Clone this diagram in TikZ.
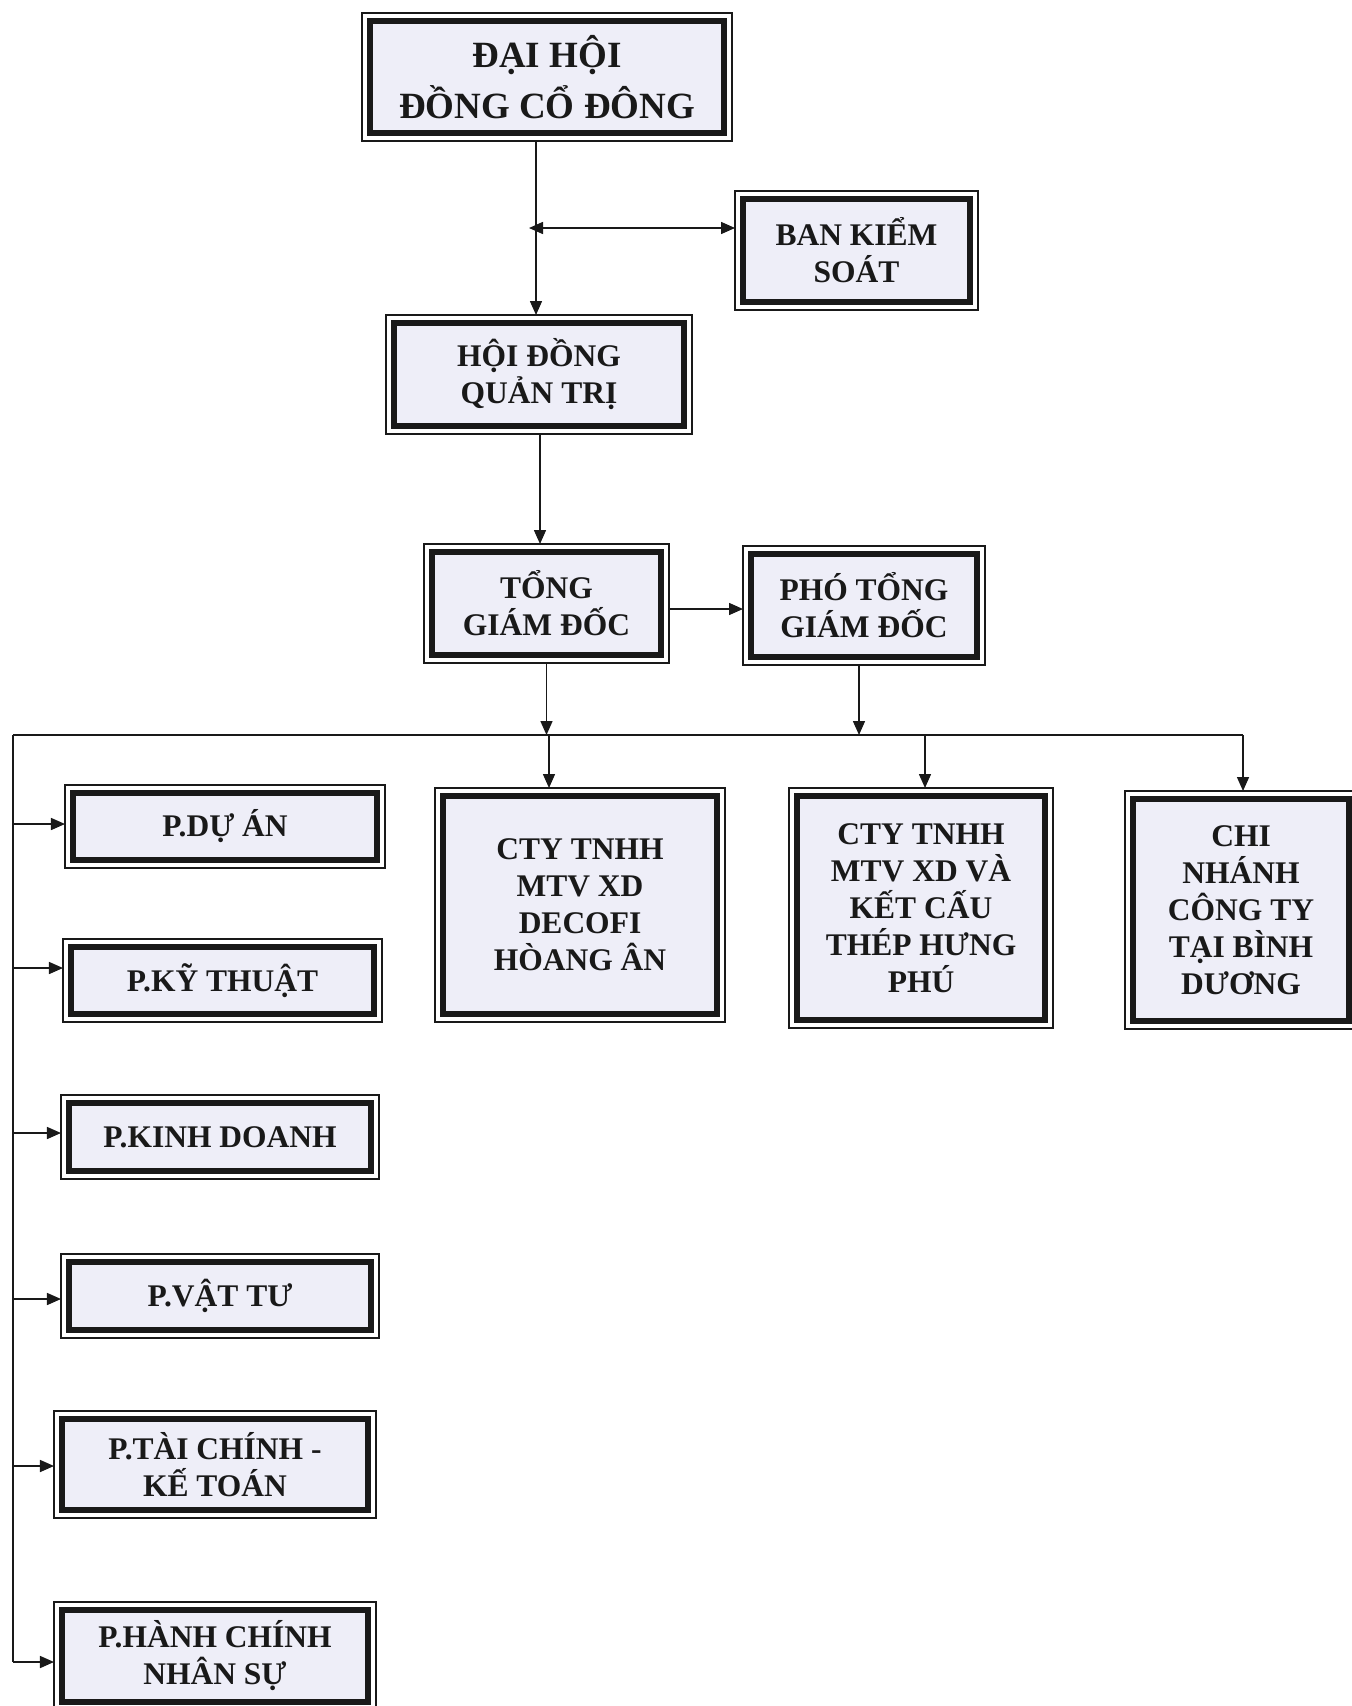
\documentclass[tikz,border=0pt]{standalone}
\usepackage{fontspec}
\setmainfont{Liberation Serif}
\usetikzlibrary{arrows.meta}
\definecolor{boxfill}{RGB}{238,238,248}
\definecolor{ink}{RGB}{25,25,25}
\begin{document}
\begin{tikzpicture}[x=1bp,y=-1bp,
  orgbox/.style={draw=ink, line width=6.5bp, fill=boxfill, inner sep=0pt, outer sep=8bp,
     align=center, text=ink, font=\fontsize{31.5bp}{37bp}\selectfont\bfseries},
  frame/.style={draw=ink, line width=1.3bp},
  conn/.style={draw=ink, line width=1.5bp},
  arr/.style={conn, -{Triangle[length=14bp,width=12bp]}},
  darr/.style={conn, {Triangle[length=14bp,width=12bp]}-{Triangle[length=14bp,width=12bp]}}]
\useasboundingbox[fill=white] (0,0) rectangle (1352,1706);

% nodes
\node[orgbox, minimum width=354bp, minimum height=112bp,
  font=\fontsize{37bp}{51bp}\selectfont\bfseries] (dh) at (547,77) {ĐẠI HỘI\\ĐỒNG CỔ ĐÔNG};
\node[orgbox, minimum width=227bp, minimum height=103bp] (bk) at (856.5,250.5) {BAN KIỂM\\SOÁT};
\node[orgbox, minimum width=290bp, minimum height=103bp] (hq) at (539,374.5) {HỘI ĐỒNG\\QUẢN TRỊ};
\node[orgbox, minimum width=229bp, minimum height=103bp] (tg) at (546.5,603.5) {TỔNG\\GIÁM ĐỐC};
\node[orgbox, minimum width=226bp, minimum height=103bp] (pt) at (864,605.5) {PHÓ TỔNG\\GIÁM ĐỐC};

\node[orgbox, minimum width=304bp, minimum height=67bp] (da) at (225,826.5) {P.DỰ ÁN};
\node[orgbox, minimum width=303bp, minimum height=67bp] (kt) at (222.5,980.5) {P.KỸ THUẬT};
\node[orgbox, minimum width=302bp, minimum height=68bp] (kd) at (220,1137) {P.KINH DOANH};
\node[orgbox, minimum width=302bp, minimum height=68bp] (vt) at (220,1296) {P.VẬT TƯ};
\node[orgbox, minimum width=306bp, minimum height=91bp] (tc) at (215,1464.5) {P.TÀI CHÍNH -\\KẾ TOÁN};
\node[orgbox, minimum width=306bp, minimum height=92bp] (hc) at (215,1656) {P.HÀNH CHÍNH\\NHÂN SỰ};

\node[orgbox, minimum width=274bp, minimum height=218bp] (c1) at (580,905) {CTY TNHH\\MTV XD\\DECOFI\\HÒANG ÂN};
\node[orgbox, minimum width=248bp, minimum height=224bp] (c2) at (921,908) {CTY TNHH\\MTV XD VÀ\\KẾT CẤU\\THÉP HƯNG\\PHÚ};
\node[orgbox, minimum width=216bp, minimum height=222bp] (cn) at (1241,910) {CHI\\NHÁNH\\CÔNG TY\\TẠI BÌNH\\DƯƠNG};

% outer thin frames
\foreach \n in {dh,bk,hq,tg,pt,da,kt,kd,vt,tc,hc,c1,c2,cn}
  \draw[frame] (\n.north west) rectangle (\n.south east);

% connectors
\coordinate (v1) at (536,0);
\coordinate (j1) at (529,228);
\draw[arr] (dh.south -| v1) -- (hq.north -| v1);
\draw[darr] (j1) -- (bk.west |- j1);

\coordinate (v2) at (540,0);
\draw[arr] (hq.south -| v2) -- (tg.north -| v2);

\coordinate (h1) at (0,609);
\draw[arr] (tg.east |- h1) -- (pt.west |- h1);

\coordinate (bl) at (13,735);
\coordinate (br) at (1243,735);
\draw[conn] (bl) -- (br);

\draw[arr] (tg.south) -- (tg.south |- bl);
\coordinate (v3) at (859,0);
\draw[arr] (pt.south -| v3) -- (v3 |- bl);

\coordinate (d1) at (549,735);
\coordinate (d2) at (925,735);
\draw[arr] (d1) -- (c1.north -| d1);
\draw[arr] (d2) -- (c2.north -| d2);
\draw[arr] (br) -- (cn.north -| br);

\coordinate (lb) at (13,1662);
\draw[conn] (bl) -- (lb);
\foreach \n/\y in {da/824, kt/968, kd/1133, vt/1299, tc/1466, hc/1662}
  \draw[arr] (13,\y) -- (\n.west |- 13,\y);
\end{tikzpicture}
\end{document}
